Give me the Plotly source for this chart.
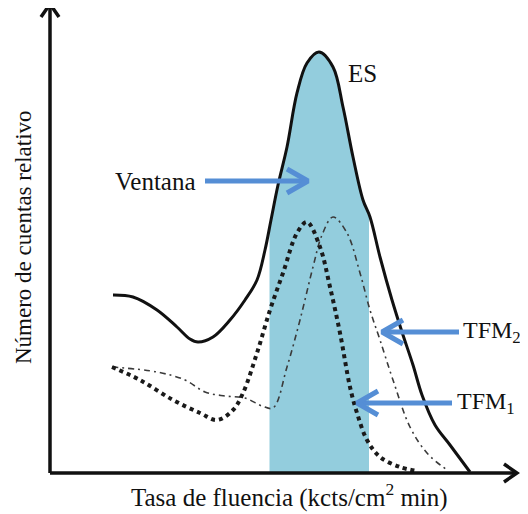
import numpy as np
import plotly.graph_objects as go

# ---------------- data ----------------
es_x = [12.6, 16.6, 21.4, 25.4, 28.0, 29.6, 32.6, 36.0, 39.0, 41.4, 43.0, 44.2, 45.6, 47.4,
        49.4, 51.4, 53.8, 56.6, 58.6, 60.6, 62.6, 64.0, 66.0, 68.4, 70.4, 72.6, 74.4, 77.0,
        80.0, 84.0]
es_y = [35.6, 35.2, 32.6, 29.2, 26.8, 26.2, 27.2, 30.6, 34.6, 38.6, 44.6, 50.6, 57.6, 65.2,
        76.0, 82.0, 84.2, 81.2, 73.2, 63.2, 54.6, 51.2, 43.2, 34.6, 28.2, 21.6, 15.6, 9.6,
        5.6, 0.2]

tfm1_x = [12.4, 18.0, 24.6, 30.0, 33.4, 36.6, 38.6, 41.4, 44.0, 46.6, 49.4, 51.4, 54.0,
          56.0, 58.0, 60.0, 61.4, 63.4, 66.0, 70.0, 73.4]
tfm1_y = [21.2, 18.6, 14.6, 12.0, 10.6, 12.6, 16.0, 24.0, 32.6, 40.0, 48.0, 50.2, 45.2,
          37.2, 28.0, 17.2, 12.0, 6.6, 3.2, 1.2, 0.4]

tfm2_x = [12.4, 21.4, 27.0, 31.0, 35.0, 39.0, 42.4, 44.6, 47.4, 50.0, 52.6, 54.4, 56.6,
          59.4, 62.0, 64.0, 66.0, 68.6, 72.0, 75.4, 79.4]
tfm2_y = [21.2, 20.2, 18.6, 16.2, 15.4, 15.0, 13.4, 13.0, 21.2, 30.6, 41.2, 47.6, 51.2,
          48.0, 40.0, 32.6, 26.6, 18.6, 9.2, 4.0, 0.6]

window_x = [43.9, 63.8]

arrow_text = ["Ventana", "TFM<sub>2</sub>", "TFM<sub>1</sub>"]
arrow_from_x = [31.0, 81.8, 80.4]
arrow_to_x = [51.6, 66.4, 61.4]
arrow_y = [58.4, 28.2, 14.0]
label_x = [29.6, 82.2, 81.0]
label_anchor = ["right", "left", "left"]

es_label = "ES"
es_label_pos = [62.4, 80.0]

x_title = "Tasa de fluencia (kcts/cm<sup>2</sup> min)"
y_title = "Número de cuentas relativo"
axis_end = [93.4, 93.8]

# ---------------- styles ----------------
FONT = "Liberation Serif"
FS = 25
FS_LBL = [25, 24, 24]
FS_Y = 23
BLUE = "#558ED5"
FILL = "#93CDDD"
INK = "#111111"

fig = go.Figure()

# window fill under the ES curve
ex = np.array(es_x)
ey = np.array(es_y)
inside = (ex > window_x[0]) & (ex < window_x[1])
fx = [window_x[0]] + list(ex[inside]) + [window_x[1]]
fy = [float(np.interp(window_x[0], ex, ey))] + list(ey[inside]) + [float(np.interp(window_x[1], ex, ey))]
fig.add_trace(go.Scatter(x=fx, y=fy, mode="lines", line=dict(width=0, shape="spline"),
                         fill="tozeroy", fillcolor=FILL, hoverinfo="skip"))

# TFM2 dash-dot
fig.add_trace(go.Scatter(x=tfm2_x, y=tfm2_y, mode="lines",
                         line=dict(color="#3a3a3a", width=1.6, dash="6px,4px,2px,4px",
                                   shape="spline")))
# TFM1 dotted
fig.add_trace(go.Scatter(x=tfm1_x, y=tfm1_y, mode="lines",
                         line=dict(color="#1a1a1a", width=4, dash="dot", shape="spline")))
# ES solid
fig.add_trace(go.Scatter(x=es_x, y=es_y, mode="lines",
                         line=dict(color=INK, width=3, shape="spline")))


def chevron(tx, ty, dx, dy, depth, half):
    px, py = -dy, dx
    return ([tx - depth * dx + half * px, tx, tx - depth * dx - half * px],
            [ty - depth * dy + half * py, ty, ty - depth * dy - half * py])


# axes with arrow heads
fig.add_trace(go.Scatter(x=[0, axis_end[0]], y=[0, 0], mode="lines",
                         line=dict(color=INK, width=3.5)))
fig.add_trace(go.Scatter(x=[0, 0], y=[0, axis_end[1]], mode="lines",
                         line=dict(color=INK, width=3.5)))
cx, cy = chevron(axis_end[0], 0, 1, 0, 2.6, 1.8)
fig.add_trace(go.Scatter(x=cx, y=cy, mode="lines", line=dict(color=INK, width=3.5)))
cx, cy = chevron(0, axis_end[1], 0, 1, 2.6, 1.8)
fig.add_trace(go.Scatter(x=cx, y=cy, mode="lines", line=dict(color=INK, width=3.5)))

# blue arrows and labels
for t, x0, x1, y, lx, anc, fs in zip(arrow_text, arrow_from_x, arrow_to_x, arrow_y,
                                     label_x, label_anchor, FS_LBL):
    fig.add_trace(go.Scatter(x=[x0, x1], y=[y, y], mode="lines",
                             line=dict(color=BLUE, width=5)))
    d = 1 if x1 > x0 else -1
    cx, cy = chevron(x1, y, d, 0, 4.2, 2.4)
    fig.add_trace(go.Scatter(x=cx, y=cy, mode="lines", line=dict(color=BLUE, width=5)))
    fig.add_annotation(x=lx, y=y, text=t, showarrow=False, xanchor=anc, yanchor="middle",
                       font=dict(family=FONT, size=fs, color=INK))

fig.add_annotation(x=es_label_pos[0], y=es_label_pos[1], text=es_label, showarrow=False,
                   xanchor="center", yanchor="middle",
                   font=dict(family=FONT, size=FS, color=INK))
fig.add_annotation(x=47.8, y=-4.4, text=x_title, showarrow=False, xanchor="center",
                   yanchor="middle", font=dict(family=FONT, size=FS, color=INK))
fig.add_annotation(x=-5.4, y=47.2, text=y_title, showarrow=False, textangle=-90,
                   xanchor="center", yanchor="middle",
                   font=dict(family=FONT, size=FS_Y, color=INK))

# the page body adds an 8px offset; the ranges start 8px into the reference frame
fig.update_layout(
    width=528, height=514, margin=dict(l=0, r=0, t=0, b=0),
    paper_bgcolor="white", plot_bgcolor="white", showlegend=False,
    xaxis=dict(range=[-8.4, 97.2], visible=False, fixedrange=True),
    yaxis=dict(range=[-9.8, 93.0], visible=False, fixedrange=True),
)

fig.write_html("out.html")
